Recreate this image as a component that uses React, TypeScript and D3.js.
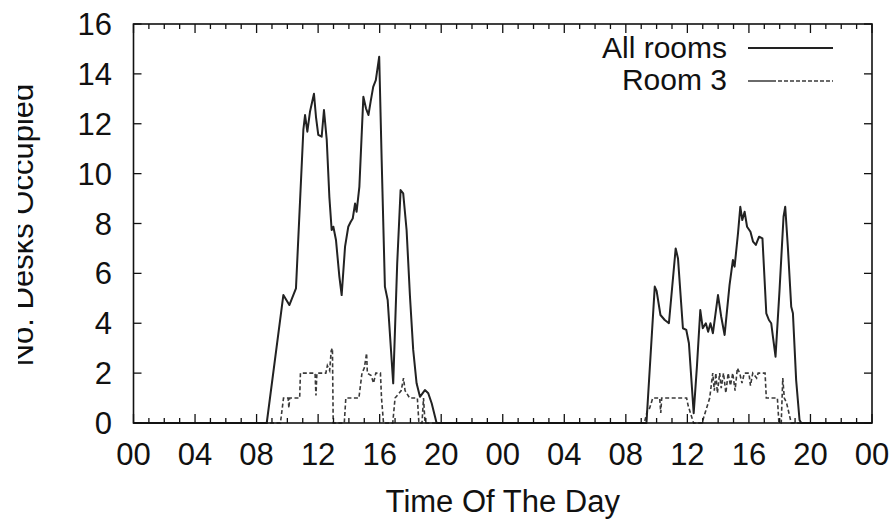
import React from "react";
import * as d3 from "d3";

// hours since start of first day, desks occupied
const allRooms: [number, number][] = [
  [0, 0], [8.66, 0], [9.74, 5.13], [10.13, 4.73], [10.56, 5.4], [11.04, 11.75],
  [11.15, 12.35], [11.3, 11.68], [11.47, 12.48], [11.73, 13.2], [11.86, 12.28],
  [12.01, 11.55], [12.23, 11.48], [12.38, 12.55], [12.56, 11.35], [12.73, 9.07],
  [12.88, 7.74], [12.99, 7.87], [13.16, 7.34], [13.38, 5.87], [13.53, 5.13],
  [13.75, 7.07], [13.96, 7.87], [14.12, 8.07], [14.25, 8.2], [14.4, 8.8],
  [14.5, 8.47], [14.68, 9.47], [14.94, 13.08], [15.11, 12.62], [15.27, 12.35],
  [15.41, 12.88], [15.58, 13.48], [15.75, 13.75], [15.97, 14.69], [16.13, 10.55],
  [16.34, 5.47], [16.52, 4.93], [16.88, 1.59], [17.14, 6.4], [17.36, 9.34],
  [17.53, 9.21], [17.75, 7.74], [17.97, 5.07], [18.18, 2.93], [18.4, 1.59],
  [18.62, 1.05], [18.94, 1.32], [19.16, 1.19], [19.38, 0.79], [19.7, 0],
  [33.34, 0], [33.88, 5.47], [34.0, 5.3], [34.25, 4.33], [34.53, 4.13],
  [34.8, 4.0], [35.24, 7.0], [35.39, 6.6], [35.71, 3.8], [35.93, 3.73],
  [36.1, 3.2], [36.41, 0.39], [36.62, 2.26], [36.84, 4.53], [37.0, 3.8],
  [37.2, 4.0], [37.35, 3.66], [37.5, 4.0], [37.66, 3.6], [37.99, 5.13],
  [38.2, 4.26], [38.42, 3.53], [38.74, 5.53], [38.96, 6.54], [39.07, 6.27],
  [39.29, 7.6], [39.44, 8.67], [39.57, 8.14], [39.72, 8.47], [39.88, 7.87],
  [40.1, 7.67], [40.27, 7.27], [40.45, 7.14], [40.66, 7.47], [40.88, 7.4],
  [41.13, 4.4], [41.3, 4.13], [41.45, 4.0], [41.56, 3.46], [41.73, 2.66],
  [41.99, 5.33], [42.25, 8.27], [42.36, 8.67], [42.53, 7.07], [42.75, 4.66],
  [42.86, 4.4], [43.07, 1.72], [43.29, 0.12], [43.4, 0], [48, 0],
];

const room3: [number, number][] = [
  [0, 0], [9.55, 0], [9.75, 1], [10.05, 1], [10.1, 0.6], [10.15, 1], [10.8, 1],
  [10.85, 2], [11.8, 2], [11.86, 1.1], [11.92, 2], [12.5, 2], [12.6, 2.3],
  [12.75, 2.1], [12.85, 2.9], [12.93, 3], [12.98, 0], [13.7, 0], [13.8, 1],
  [14.65, 1], [14.85, 2], [15.0, 2.2], [15.15, 2.8], [15.2, 2], [15.45, 1.9],
  [15.6, 1.6], [15.75, 2], [16.05, 2], [16.12, 1], [16.25, 0], [16.85, 0],
  [17.0, 1], [17.4, 1.3], [17.55, 1.8], [17.65, 1.3], [17.95, 1], [18.45, 1],
  [18.55, 0], [18.75, 0], [18.85, 1], [18.95, 0], [33.2, 0], [33.4, 0.5],
  [33.55, 0.6], [33.75, 1], [34.2, 1], [34.27, 0.4], [34.33, 1], [35.95, 1],
  [36.05, 0.7], [36.4, 0], [36.95, 0], [37.2, 0.5], [37.45, 1], [37.65, 2],
  [37.75, 1.3], [37.85, 2], [37.95, 1.2], [38.1, 2], [38.2, 1.4], [38.35, 2],
  [38.5, 1.2], [38.65, 2], [38.8, 1.5], [38.95, 2], [39.1, 1.3], [39.25, 2.2],
  [39.4, 2], [39.55, 1.6], [39.7, 2], [40.0, 2], [40.1, 1.5], [40.25, 2],
  [40.5, 1.8], [40.6, 2], [41.05, 2], [41.13, 1], [41.85, 1], [41.95, 0],
  [42.1, 0], [42.2, 1.8], [42.3, 1], [42.45, 0.8], [42.6, 0.4], [42.75, 0],
  [48, 0],
];

const xTickLabels = ["00", "04", "08", "12", "16", "20", "00", "04", "08", "12", "16", "20", "00"];
const yTicks = [0, 2, 4, 6, 8, 10, 12, 14, 16];
const seriesNames = ["All rooms", "Room 3"];

const W = 894;
const H = 520;
const font = "'Liberation Sans', Arial, Helvetica, sans-serif";

export default function App() {
  const x = d3.scaleLinear().domain([0, 48]).range([133.5, 872]);
  const y = d3.scaleLinear().domain([0, 16]).range([423, 24]);
  const [x0, x1] = x.range();
  const [y0, y1] = y.range();

  const line = d3
    .line<[number, number]>()
    .x((d) => x(d[0]))
    .y((d) => y(d[1]));

  const hourTicks = d3.range(0, 49);

  return (
    <svg
      width={W}
      height={H}
      style={{ position: "absolute", left: 0, top: 0, background: "#fff" }}
      fontFamily={font}
    >
      <defs>
        <clipPath id="ylab-clip">
          <rect x={18} y={0} width={60} height={H} />
        </clipPath>
      </defs>

      {/* data */}
      <path d={line(room3) || ""} fill="none" stroke="#3a3a3a" strokeWidth={1.6} strokeDasharray="4,2.5" />
      <path d={line(allRooms) || ""} fill="none" stroke="#222" strokeWidth={2} strokeLinejoin="round" />

      {/* frame */}
      <rect x={x0} y={y1} width={x1 - x0} height={y0 - y1} fill="none" stroke="#111" strokeWidth={1.6} />

      {/* x ticks, bottom and top */}
      {hourTicks.map((h) => {
        const len = h % 4 === 0 ? 9 : 5;
        return (
          <g key={"xt" + h} stroke="#111" strokeWidth={1.3}>
            <line x1={x(h)} x2={x(h)} y1={y0} y2={y0 - len} />
            <line x1={x(h)} x2={x(h)} y1={y1} y2={y1 + len} />
          </g>
        );
      })}

      {/* y ticks, left and right */}
      {yTicks.map((v) => (
        <g key={"yt" + v} stroke="#111" strokeWidth={1.3}>
          <line x1={x0} x2={x0 + 8} y1={y(v)} y2={y(v)} />
          <line x1={x1} x2={x1 - 8} y1={y(v)} y2={y(v)} />
        </g>
      ))}

      {/* tick labels */}
      {xTickLabels.map((t, i) => (
        <text key={"xl" + i} x={x(i * 4)} y={465} fontSize={31} textAnchor="middle" fill="#111">
          {t}
        </text>
      ))}
      {yTicks.map((v) => (
        <text key={"yl" + v} x={112} y={y(v) + 11} fontSize={31} textAnchor="end" fill="#111">
          {v}
        </text>
      ))}

      {/* axis titles */}
      <text x={(x0 + x1) / 2} y={512} fontSize={31} textAnchor="middle" fill="#111">
        Time Of The Day
      </text>
      <g clipPath="url(#ylab-clip)">
        <text transform="translate(33,225) rotate(-90)" fontSize={31} textAnchor="middle" fill="#111">
          No. Desks Occupied
        </text>
      </g>

      {/* legend */}
      <text x={727} y={58} fontSize={30} textAnchor="end" fill="#111">{seriesNames[0]}</text>
      <line x1={748} x2={833} y1={48} y2={48} stroke="#222" strokeWidth={2} />
      <text x={727} y={90} fontSize={30} textAnchor="end" fill="#111">{seriesNames[1]}</text>
      <line x1={748} x2={833} y1={81} y2={81} stroke="#3a3a3a" strokeWidth={1.6}
        strokeDasharray="28,2,4,2,4,2,4,2,4,2,4,2,4,2,4,2,4,2,4,2" />
    </svg>
  );
}
